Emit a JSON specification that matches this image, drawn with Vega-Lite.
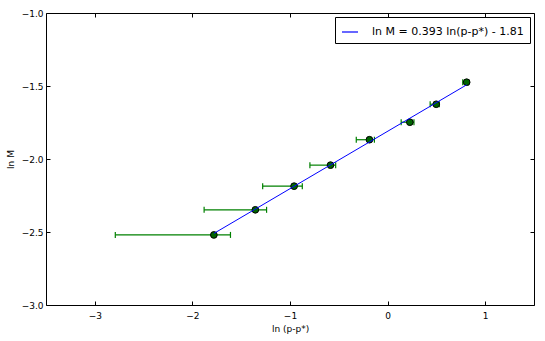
{
  "$schema": "https://vega.github.io/schema/vega-lite/v6.json",
  "width": 488,
  "height": 292,
  "autosize": "none",
  "padding": {"left": 46, "top": 13, "right": 11, "bottom": 36},
  "background": "white",
  "config": {
    "view": {"stroke": "black", "strokeWidth": 1},
    "font": "DejaVu Sans",
    "axis": {
      "labelFont": "DejaVu Sans",
      "titleFont": "DejaVu Sans",
      "labelFontSize": 9,
      "titleFontSize": 9,
      "titleFontWeight": "normal",
      "labelColor": "black",
      "titleColor": "black",
      "tickColor": "black",
      "domain": false,
      "grid": false,
      "labelFlush": false,
      "labelOverlap": false,
      "labelBound": false,
      "tickSize": -4
    }
  },
  "datasets": {
    "pts": [
      {"x": -1.78, "y": -2.52, "lo": -2.79, "hi": -1.61},
      {"x": -1.355, "y": -2.348, "lo": -1.88, "hi": -1.24},
      {"x": -0.958, "y": -2.186, "lo": -1.28, "hi": -0.874},
      {"x": -0.585, "y": -2.042, "lo": -0.796, "hi": -0.532},
      {"x": -0.186, "y": -1.868, "lo": -0.321, "hi": -0.135},
      {"x": 0.228, "y": -1.748, "lo": 0.139, "hi": 0.27},
      {"x": 0.498, "y": -1.625, "lo": 0.436, "hi": 0.53},
      {"x": 0.81, "y": -1.474, "lo": 0.77, "hi": 0.83}
    ],
    "fit": [
      {"x": -1.78, "y": -2.51, "series": "ln M = 0.393 ln(p-p*) - 1.81"},
      {"x": 0.81, "y": -1.492, "series": "ln M = 0.393 ln(p-p*) - 1.81"}
    ]
  },
  "layer": [
    {
      "data": {"name": "pts"},
      "mark": {"type": "rule", "color": "#008000", "strokeWidth": 1.2, "opacity": 1},
      "encoding": {
        "x": {"field": "lo", "type": "quantitative", "scale": {"domain": [-3.5, 1.5], "nice": false, "zero": false},
              "axis": {"orient": "bottom", "values": [-3, -2, -1, 0, 1], "format": "d", "title": "ln (p-p*)", "labelPadding": 10, "titlePadding": 4}},
        "x2": {"field": "hi"},
        "y": {"field": "y", "type": "quantitative", "scale": {"domain": [-3, -1], "nice": false, "zero": false},
              "axis": {"orient": "left", "values": [-3, -2.5, -2, -1.5, -1], "format": ".1f", "title": "ln M", "labelPadding": 7, "titlePadding": 6}}
      }
    },
    {
      "data": {"name": "pts"},
      "transform": [{"fold": ["lo", "hi"], "as": ["end", "ex"]}],
      "mark": {"type": "tick", "orient": "vertical", "color": "#008000", "thickness": 1.2, "size": 6, "opacity": 1},
      "encoding": {
        "x": {"field": "ex", "type": "quantitative", "axis": {"orient": "top", "values": [-3, -2, -1, 0, 1], "labels": false, "title": null}},
        "y": {"field": "y", "type": "quantitative", "axis": {"orient": "right", "values": [-3, -2.5, -2, -1.5, -1], "labels": false, "title": null}}
      }
    },
    {
      "data": {"name": "pts"},
      "mark": {"type": "circle", "fill": "#006400", "stroke": "black", "strokeWidth": 1, "opacity": 1, "size": 45},
      "encoding": {
        "x": {"field": "x", "type": "quantitative", "axis": null},
        "y": {"field": "y", "type": "quantitative", "axis": null}
      }
    },
    {
      "data": {"name": "fit"},
      "mark": {"type": "line", "strokeWidth": 1, "color": "blue"},
      "encoding": {
        "x": {"field": "x", "type": "quantitative", "axis": null},
        "y": {"field": "y", "type": "quantitative", "axis": null},
        "stroke": {"field": "series", "type": "nominal", "scale": {"range": ["blue"]},
                  "legend": {"title": null, "orient": "top-right", "offset": 4, "strokeColor": "black", "fillColor": "white",
                             "padding": 6, "cornerRadius": 0, "labelFontSize": 11, "labelFont": "DejaVu Sans", "labelColor": "black",
                             "symbolType": "M-1,0H1", "symbolSize": 256, "symbolStrokeWidth": 1.2, "symbolStrokeColor": "blue",
                             "symbolFillColor": "blue", "symbolOpacity": 1,
                             "labelOffset": 13, "labelLimit": 400}}
      }
    }
  ],
  "resolve": {"axis": {"x": "independent", "y": "independent"}}
}
